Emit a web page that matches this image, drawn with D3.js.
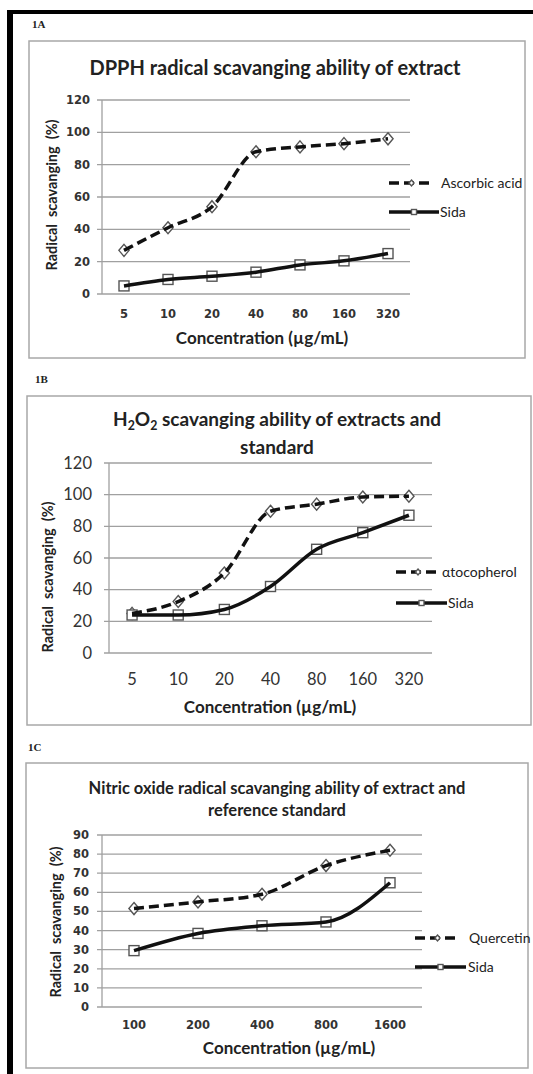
<!DOCTYPE html>
<html>
<head>
<meta charset="utf-8">
<script src="https://cdn.jsdelivr.net/npm/d3@7"></script>
<style>
  body { margin: 0; background: #fff; }
  svg { display: block; }
</style>
</head>
<body>
<svg width="533" height="1074"></svg>
<script>
// values
const concAB = ['5', '10', '20', '40', '80', '160', '320']
const concC = ['100', '200', '400', '800', '1600']

const ascorbicA = [27, 41, 54, 88, 91, 93, 96]
const sidaA = [5, 9, 11, 13.5, 18, 20.5, 25]

const tocopherolB = [25, 32.5, 50.5, 89.5, 94, 98.5, 99]
const sidaB = [24, 24, 27.5, 42, 65.5, 76, 87]

const quercetinC = [51.5, 55, 59, 74, 82]
const sidaC = [29.5, 38.5, 42.5, 44.5, 65]

const yTicksAB = [0, 20, 40, 60, 80, 100, 120]
const yTicksC = [0, 10, 20, 30, 40, 50, 60, 70, 80, 90]

const svg = d3.select('svg')

// black frame left and top
svg.append('rect').attr('x', 7).attr('y', 10).attr('width', 6).attr('height', 1064).attr('fill', '#000')
svg.append('rect').attr('x', 7).attr('y', 10).attr('width', 526).attr('height', 4).attr('fill', '#000')

function diamond(g, x, y, r) {
  g.append('path')
    .attr('d', `M${x},${y - r}L${x + r * 0.85},${y}L${x},${y + r}L${x - r * 0.85},${y}Z`)
    .attr('fill', '#fff').attr('stroke', '#555').attr('stroke-width', 1.4)
}

function square(g, x, y, r) {
  g.append('rect')
    .attr('x', x - r).attr('y', y - r).attr('width', 2 * r).attr('height', 2 * r)
    .attr('fill', '#fff').attr('stroke', '#555').attr('stroke-width', 1.4)
}

function drawPanel(p) {
  const g = svg.append('g')

  g.append('text')
    .attr('x', p.label[1]).attr('y', p.label[2])
    .attr('font-family', 'Liberation Serif').attr('font-weight', 'bold').attr('font-size', 11)
    .attr('fill', '#222')
    .text(p.label[0])

  g.append('rect')
    .attr('x', p.box[0]).attr('y', p.box[1]).attr('width', p.box[2]).attr('height', p.box[3])
    .attr('fill', '#fff').attr('stroke', '#a8a8a8').attr('stroke-width', 1.5)

  const title = g.append('text')
    .attr('text-anchor', 'middle')
    .attr('font-family', 'Lato').attr('font-weight', 'bold').attr('font-size', p.titleSize)
    .attr('fill', '#222')
  p.title.forEach((line, i) => {
    const t = title.append('tspan').attr('x', p.titleX).attr('y', p.titleY[i])
    // "_2" marks a subscript digit
    let shifted = false
    line.split(/(_\d)/).filter(s => s !== '').forEach(s => {
      if (s[0] === '_') {
        t.append('tspan').attr('font-size', p.titleSize * 0.65).attr('dy', shifted ? 0 : 4).text(s.slice(1))
        shifted = true
      } else {
        t.append('tspan').attr('dy', shifted ? -4 : 0).text(s)
        shifted = false
      }
    })
  })

  const x = d3.scalePoint().domain(p.cats).range([p.plot.left, p.plot.right]).padding(0.5)
  const y = d3.scaleLinear().domain([0, p.yMax]).range([p.plot.bottom, p.plot.top])

  // gridlines
  g.selectAll('.grid').data(p.yTicks).enter().append('line')
    .attr('x1', p.plot.left - 5).attr('x2', p.plot.right)
    .attr('y1', d => y(d)).attr('y2', d => y(d))
    .attr('stroke', '#a0a0a0').attr('stroke-width', 1.3)

  g.append('line')
    .attr('x1', p.plot.left).attr('x2', p.plot.left)
    .attr('y1', p.plot.top).attr('y2', p.plot.bottom)
    .attr('stroke', '#a0a0a0').attr('stroke-width', 1.3)

  // tick labels
  g.selectAll('.yt').data(p.yTicks).enter().append('text')
    .attr('x', p.yLabelX).attr('y', d => y(d)).attr('dy', '0.35em')
    .attr('text-anchor', 'end')
    .attr('font-family', p.tickFont).attr('font-weight', p.tickWeight).attr('font-size', p.tickSize)
    .attr('fill', '#333')
    .text(d => d)

  g.selectAll('.xt').data(p.cats).enter().append('text')
    .attr('x', d => x(d)).attr('y', p.xLabelY)
    .attr('text-anchor', 'middle')
    .attr('font-family', p.tickFont).attr('font-weight', p.tickWeight).attr('font-size', p.tickSize)
    .attr('fill', '#333')
    .text(d => d)

  g.append('text')
    .attr('x', p.xTitle[0]).attr('y', p.xTitle[1])
    .attr('text-anchor', 'middle')
    .attr('font-family', 'Lato').attr('font-weight', 'bold').attr('font-size', 17)
    .attr('fill', '#222')
    .text('Concentration (\u00b5g/mL)')

  g.append('text')
    .attr('transform', `translate(${p.yTitle[0]},${p.yTitle[1]}) rotate(-90)`)
    .attr('text-anchor', 'middle').attr('dy', '0.35em')
    .attr('font-family', 'Lato').attr('font-weight', 'bold').attr('font-size', 14.5)
    .attr('fill', '#222')
    .style('white-space', 'pre')
    .text('Radical  scavanging  (%)')

  const line = d3.line()
    .x((d, i) => x(p.cats[i]))
    .y(d => y(d))
    .curve(d3.curveMonotoneX)

  p.ref.forEach((v, i) => diamond(g, x(p.cats[i]), y(v), 6))
  p.sida.forEach((v, i) => square(g, x(p.cats[i]), y(v), 5))

  g.append('path').datum(p.ref).attr('d', line)
    .attr('fill', 'none').attr('stroke', '#111').attr('stroke-width', 3.5)
    .attr('stroke-dasharray', '10,5')
  g.append('path').datum(p.sida).attr('d', line)
    .attr('fill', 'none').attr('stroke', '#111').attr('stroke-width', 3.5)

  // legend
  const lg = p.legend
  g.append('line').attr('x1', lg.x0).attr('x2', lg.x1).attr('y1', lg.y1).attr('y2', lg.y1)
    .attr('stroke', '#111').attr('stroke-width', 3.5).attr('stroke-dasharray', '10,5')
  diamond(g, (lg.x0 + lg.x1) / 2, lg.y1, 3)
  g.append('text').attr('x', lg.t1).attr('y', lg.y1).attr('dy', '0.35em')
    .attr('font-family', 'Lato').attr('font-size', 14).attr('fill', '#222')
    .text(p.refName)

  g.append('line').attr('x1', lg.x0).attr('x2', lg.x2).attr('y1', lg.y2).attr('y2', lg.y2)
    .attr('stroke', '#111').attr('stroke-width', 3.5)
  square(g, (lg.x0 + lg.x2) / 2, lg.y2, 2.5)
  g.append('text').attr('x', lg.t2).attr('y', lg.y2).attr('dy', '0.35em')
    .attr('font-family', 'Lato').attr('font-size', 14).attr('fill', '#222')
    .text('Sida')
}

drawPanel({
  label: ['1A', 32, 28],
  box: [29, 41, 496, 317],
  title: ['DPPH radical scavanging ability of extract'],
  titleX: 275, titleY: [75], titleSize: 20,
  cats: concAB, ref: ascorbicA, sida: sidaA, refName: 'Ascorbic acid',
  yMax: 120, yTicks: yTicksAB,
  plot: { left: 102, right: 410, top: 100, bottom: 294 },
  tickFont: 'DejaVu Sans', tickWeight: 'bold', tickSize: 11.5,
  yLabelX: 90, xLabelY: 318,
  xTitle: [262, 344], yTitle: [52, 195],
  legend: { x0: 389, x1: 434, x2: 439, y1: 183, y2: 212, t1: 441, t2: 440 }
})

drawPanel({
  label: ['1B', 35, 383],
  box: [27, 396, 504, 329],
  title: ['H_2O_2 scavanging ability of extracts and', 'standard'],
  titleX: 277, titleY: [426, 454], titleSize: 19,
  cats: concAB, ref: tocopherolB, sida: sidaB, refName: '\u03b1tocopherol',
  yMax: 120, yTicks: yTicksAB,
  plot: { left: 109, right: 432, top: 463, bottom: 653 },
  tickFont: 'Lato', tickWeight: 'normal', tickSize: 16.5,
  yLabelX: 92, xLabelY: 685,
  xTitle: [270, 713], yTitle: [48, 577],
  legend: { x0: 396, x1: 440, x2: 447, y1: 572, y2: 603, t1: 442, t2: 448 }
})

drawPanel({
  label: ['1C', 28, 751],
  box: [26, 763, 502, 305],
  title: ['Nitric oxide radical scavanging ability of extract and', 'reference standard'],
  titleX: 277, titleY: [794, 816], titleSize: 16.5,
  cats: concC, ref: quercetinC, sida: sidaC, refName: 'Quercetin',
  yMax: 90, yTicks: yTicksC,
  plot: { left: 102, right: 422, top: 835, bottom: 1007 },
  tickFont: 'DejaVu Sans', tickWeight: 'bold', tickSize: 11.5,
  yLabelX: 89, xLabelY: 1029,
  xTitle: [289, 1054], yTitle: [56, 922],
  legend: { x0: 415, x1: 460, x2: 466, y1: 938, y2: 967, t1: 469, t2: 468 }
})
</script>
</body>
</html>
